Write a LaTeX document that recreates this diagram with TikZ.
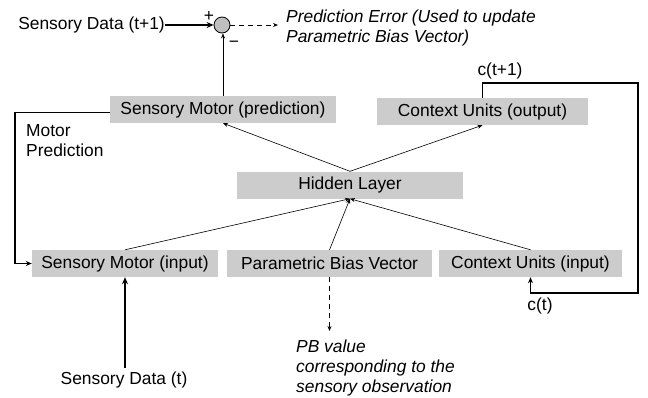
\documentclass[tikz,border=0pt]{standalone}
\usepackage{fontspec}
\setmainfont{Liberation Sans}
\usetikzlibrary{arrows.meta,calc}
\definecolor{boxgray}{HTML}{CCCCCC}
\definecolor{sumgray}{HTML}{BFBFBF}
\begin{document}
\begin{tikzpicture}[x=1pt,y=-1pt,
  font=\fontsize{17.4}{19.8}\selectfont,
  box/.style={fill=boxgray,draw=none,inner sep=0pt,minimum height=27pt},
  lbl/.style={inner sep=0pt},
  ital/.style={inner sep=0pt,font=\fontsize{17.4}{19.8}\selectfont\itshape,align=left},
  con/.style={-{Stealth[length=5pt,width=4pt]},line width=0.6pt},
  thick con/.style={-{Stealth[length=7pt,width=6pt]},line width=2.6pt},
  dcon/.style={-{Stealth[length=5pt,width=4pt]},line width=0.8pt,dash pattern=on 5pt off 4pt},
  fb/.style={-{Stealth[length=6pt,width=5pt]},line width=1.2pt}
]
\useasboundingbox (0,0) rectangle (648,397);
% boxes
\node[box,minimum width=226pt] (smp) at (223,109.5) {Sensory Motor (prediction)};
\node[box,minimum width=211pt] (cuo) at (482.5,111.5) {Context Units (output)};
\node[box,minimum width=226pt] (hid) at (350,185) {Hidden Layer};
\node[box,minimum width=186pt] (smi) at (125,263.5) {Sensory Motor (input)};
\node[box,minimum width=205pt] (pbv) at (329.5,263.5) {Parametric Bias Vector};
\node[box,minimum width=183pt] (cui) at (530.5,263.5) {Context Units (input)};
% comparator
\node[circle,draw,fill=sumgray,line width=0.8pt,minimum size=16pt,inner sep=0pt] (sum) at (222,25) {};
\node[lbl,anchor=east] (sdt1) at (165,25) {Sensory Data (t+1)};
\node[lbl] (plus) at (209,16) {+};
\node[lbl] (minus) at (234,44) {\textminus};
\coordinate (perr) at (278,25);
\node[ital,anchor=north west] (petext) at (286,10) {Prediction Error (Used to update\\Parametric Bias Vector)};
\draw[thick con] (sdt1.east) -- (sum.west);
\draw[dcon] (sum.east) -- (perr);
\draw[con] (smp.north) -- (smp.north |- sum.south);
% hidden layer connections
\draw[con] (hid.north) -- (smp.south);
\draw[con] (hid.north) -- (cuo.south);
\draw[con] (smi.north) -- (hid.south);
\draw[con] (pbv.north) -- (hid.south);
\draw[con] (cui.north) -- (hid.south);
% context feedback
\coordinate (c1) at (482.5,83);
\coordinate (c2) at (638,83);
\coordinate (c3) at (638,293);
\coordinate (c4) at (530.5,293);
\draw[fb] (cuo.north) -- (c1) -- (c2) -- (c3) -- (c4) -- (cui.south);
\node[lbl] (ct1) at (500,71) {c(t+1)};
\node[lbl] (ct) at (540,306) {c(t)};
% motor feedback
\coordinate (m0) at (110,112.5);
\coordinate (m1) at (15,112.5);
\coordinate (m2) at (15,263.5);
\draw[fb] (m0) -- (m1) -- (m2) -- (smi.west);
\node[lbl,anchor=north west,align=left] (mp) at (26,124.5) {Motor\\Prediction};
% sensory data input
\node[lbl] (sdt) at (124,380) {Sensory Data (t)};
\draw[thick con] (sdt.north -| smi.south) ++(0,-4) -- (smi.south);
% PB output
\coordinate (pbo) at (329.5,331);
\draw[dcon] (pbv.south) -- (pbo);
\node[ital,anchor=north west] (pbtext) at (296,340) {PB value\\corresponding to the\\sensory observation};
\end{tikzpicture}
\end{document}
